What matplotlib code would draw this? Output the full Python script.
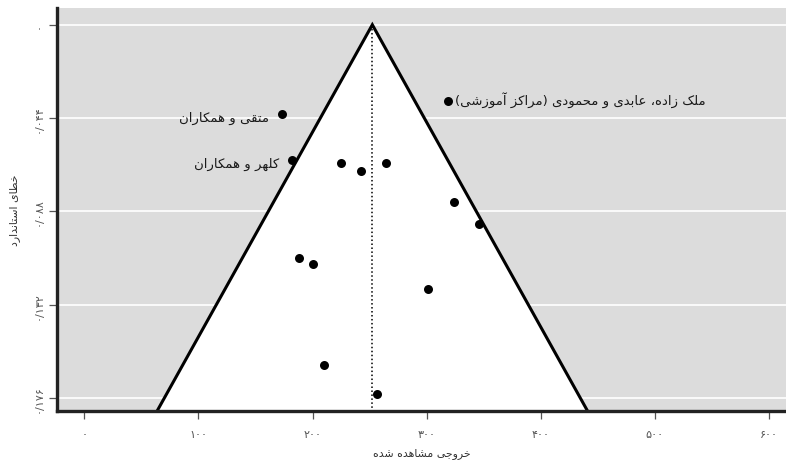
import matplotlib
matplotlib.use('Agg')
import matplotlib.pyplot as plt

# ---------------- data ----------------
observed = [173.5, 318.8, 182.0, 225.0, 242.8, 264.4, 324.3, 345.9,
            188.4, 200.1, 301.2, 210.3, 256.5]
std_err = [0.0421, 0.0361, 0.0637, 0.0652, 0.0688, 0.0652, 0.0834, 0.0940,
           0.1101, 0.1130, 0.1245, 0.1606, 0.1741]
pooled = 252.4          # centre of funnel
funnel_slope = 1036.0   # half-width of funnel per unit of standard error

point_labels = {0: "متقی و همکاران",
                2: "کلهر و همکاران",
                1: "ملک زاده، عابدی و محمودی (مراکز آموزشی)"}

x_ticks = [0, 100, 200, 300, 400, 500, 600]
x_tick_labels = ["۰", "۱۰۰", "۲۰۰", "۳۰۰", "۴۰۰", "۵۰۰", "۶۰۰"]
y_ticks = [0, 0.044, 0.088, 0.132, 0.176]
y_tick_labels = ["۰", "۰/۰۴۴", "۰/۰۸۸", "۰/۱۳۲", "۰/۱۷۶"]
x_title = "خروجی مشاهده شده"
y_title = "خطای استاندارد"

# ------------- simple Persian shaping (matplotlib has no CTL) -------------
FORMS = {  # isolated, final, initial, medial
    '\u0622': ('\uFE81', '\uFE82', None, None),
    '\u0627': ('\uFE8D', '\uFE8E', None, None),
    '\u0628': ('\uFE8F', '\uFE90', '\uFE91', '\uFE92'),
    '\u062A': ('\uFE95', '\uFE96', '\uFE97', '\uFE98'),
    '\u062C': ('\uFE9D', '\uFE9E', '\uFE9F', '\uFEA0'),
    '\u062D': ('\uFEA1', '\uFEA2', '\uFEA3', '\uFEA4'),
    '\u062E': ('\uFEA5', '\uFEA6', '\uFEA7', '\uFEA8'),
    '\u062F': ('\uFEA9', '\uFEAA', None, None),
    '\u0631': ('\uFEAD', '\uFEAE', None, None),
    '\u0632': ('\uFEAF', '\uFEB0', None, None),
    '\u0633': ('\uFEB1', '\uFEB2', '\uFEB3', '\uFEB4'),
    '\u0634': ('\uFEB5', '\uFEB6', '\uFEB7', '\uFEB8'),
    '\u0637': ('\uFEC1', '\uFEC2', '\uFEC3', '\uFEC4'),
    '\u0639': ('\uFEC9', '\uFECA', '\uFECB', '\uFECC'),
    '\u0642': ('\uFED5', '\uFED6', '\uFED7', '\uFED8'),
    '\u0644': ('\uFEDD', '\uFEDE', '\uFEDF', '\uFEE0'),
    '\u0645': ('\uFEE1', '\uFEE2', '\uFEE3', '\uFEE4'),
    '\u0646': ('\uFEE5', '\uFEE6', '\uFEE7', '\uFEE8'),
    '\u0647': ('\uFEE9', '\uFEEA', '\uFEEB', '\uFEEC'),
    '\u0648': ('\uFEED', '\uFEEE', None, None),
    '\u06A9': ('\uFB8E', '\uFB8F', '\uFB90', '\uFB91'),
    '\u06CC': ('\uFBFC', '\uFBFD', '\uFBFE', '\uFBFF'),
}


def shape(text):
    out = []
    n = len(text)
    for i, ch in enumerate(text):
        if ch not in FORMS:
            out.append(ch)
            continue
        f = FORMS[ch]
        prev = text[i - 1] if i > 0 else None
        nxt = text[i + 1] if i < n - 1 else None
        join_prev = prev in FORMS and FORMS[prev][2] is not None
        join_next = f[2] is not None and nxt in FORMS
        if join_prev and join_next:
            out.append(f[3])
        elif join_prev:
            out.append(f[1])
        elif join_next:
            out.append(f[2])
        else:
            out.append(f[0])
    vis = ''.join(reversed(out))
    mirror = {'(': ')', ')': '('}
    return ''.join(mirror.get(c, c) for c in vis)


plt.rcParams['font.family'] = ['DejaVu Sans']

fig = plt.figure(figsize=(7.86, 4.64), dpi=100)
ax = fig.add_axes([57 / 786, 1 - 412 / 464, 1 - 57 / 786, (412 - 9) / 464])
ax.set_facecolor('#dcdcdc')

x_lo, x_hi = -24, 615
y_top, y_bot = -0.0079, 0.1821
ax.set_xlim(x_lo, x_hi)
ax.set_ylim(y_bot, y_top)

se_max = 0.3
funnel_x = [pooled, pooled - funnel_slope * se_max, pooled + funnel_slope * se_max]
funnel_y = [0, se_max, se_max]
ax.fill(funnel_x, funnel_y, color='white', zorder=1, lw=0)
ax.plot([funnel_x[1], funnel_x[0], funnel_x[2]], [funnel_y[1], funnel_y[0], funnel_y[2]],
        color='black', lw=2.2, zorder=3, solid_joinstyle='miter')
ax.plot([pooled, pooled], [0, se_max], color='black', lw=1.1, ls=(0, (1, 1.6)), zorder=2)

ax.scatter(observed, std_err, s=42, color='black', zorder=4, lw=0)

for idx, lab in point_labels.items():
    if idx == 1:
        ax.annotate(shape(lab), (observed[idx], std_err[idx]), xytext=(5, 1.5),
                    textcoords='offset points', ha='left', va='center',
                    fontsize=9.5, color='#1a1a1a')
    else:
        ax.annotate(shape(lab), (observed[idx], std_err[idx]), xytext=(-9.5, -2.5),
                    textcoords='offset points', ha='right', va='center',
                    fontsize=9.5, color='#1a1a1a')

ax.set_xticks(x_ticks)
ax.set_xticklabels(x_tick_labels, fontsize=8, color='#555555')
ax.set_yticks(y_ticks)
ax.set_yticklabels(y_tick_labels, fontsize=8, color='#555555', rotation=90, va='center')
ax.tick_params(axis='both', length=6, width=0.9, color='#555555')
ax.tick_params(axis='x', pad=7)
ax.tick_params(axis='y', pad=3.5)

ax.grid(axis='y', color='white', lw=1.2)
ax.grid(axis='x', visible=False)
ax.set_axisbelow(True)

for s in ['top', 'right']:
    ax.spines[s].set_visible(False)
for s in ['left', 'bottom']:
    ax.spines[s].set_linewidth(2.4)
    ax.spines[s].set_color('#222222')
    ax.spines[s].set_zorder(5)

ax.set_xlabel(shape(x_title), fontsize=7.8, color='#333333', labelpad=6)
ax.set_ylabel(shape(y_title), fontsize=7.8, color='#333333', labelpad=10)

fig.savefig('out.png', dpi=100)
